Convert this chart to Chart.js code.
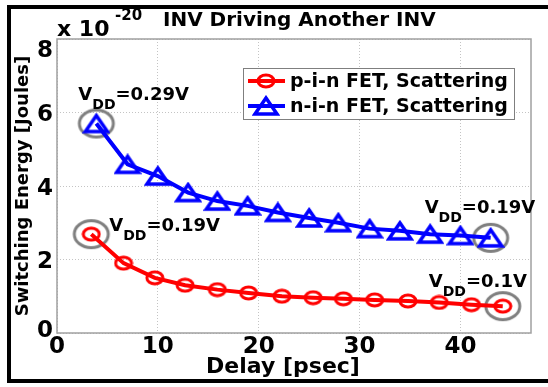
<!DOCTYPE html>
<html>
<head>
<meta charset="utf-8">
<script src="https://cdn.jsdelivr.net/npm/chart.js@4.4.1/dist/chart.umd.min.js"></script>
<style>
  html, body { margin: 0; padding: 0; background: #fff; }
  #wrap { width: 548px; height: 387px; }
</style>
</head>
<body>
<div id="wrap"><canvas id="chart" width="548" height="387"></canvas></div>
<script>
// datos (energia en unidades de 1e-20 J)
const delayPin = [3.4, 6.6, 9.7, 12.7, 15.9, 19.0, 22.3, 25.4, 28.4, 31.5, 34.8, 37.9, 41.1, 44.2];
const energyPin = [2.69, 1.90, 1.50, 1.30, 1.18, 1.09, 1.00, 0.96, 0.93, 0.90, 0.87, 0.83, 0.77, 0.73];
const delayNin = [3.9, 7.0, 10.0, 13.0, 15.9, 18.9, 21.9, 25.0, 27.9, 31.0, 34.0, 37.0, 40.0, 43.0];
const energyNin = [5.70, 4.59, 4.27, 3.82, 3.59, 3.46, 3.28, 3.13, 3.00, 2.84, 2.78, 2.69, 2.65, 2.59];
const xTicks = [0, 10, 20, 30, 40];
const yTicks = [0, 2, 4, 6, 8];
const seriesNames = ["p-i-n FET, Scattering", "n-i-n FET, Scattering"];
const chartTitle = "INV Driving Another INV";
const xTitle = "Delay [psec]";
const yTitle = "Switching Energy [Joules]";
const yExponent = "-20";
const vddSeries = [1, 0, 1, 0];
const vddIndex = [0, 0, 13, 13];
const vddValues = ["=0.29V", "=0.19V", "=0.19V", "=0.1V"];

const FONT = "'DejaVu Sans', sans-serif";
const RED = "#ff0000";
const BLUE = "#0000ff";

const toPoints = (xs, ys) => xs.map((x, i) => ({ x: x, y: ys[i] }));
const pinPts = toPoints(delayPin, energyPin);
const ninPts = toPoints(delayNin, energyNin);
const allSeries = [pinPts, ninPts];
const highlightPts = vddSeries.map((s, i) => allSeries[s][vddIndex[i]]);

// desplazamiento de cada etiqueta V_DD respecto a su punto (px)
const noteOffsets = [[-18, -24], [18, -3], [-66, -25], [-74, -19]];

// marcadores dibujados en un canvas aparte (la figura original esta estirada en horizontal)
const makeMarker = (w, h, draw) => {
    const c = document.createElement("canvas");
    c.width = w;
    c.height = h;
    const g = c.getContext("2d");
    draw(g, w, h);
    return c;
};
const redMarker = makeMarker(20, 16, (g, w, h) => {
    g.strokeStyle = RED;
    g.lineWidth = 3;
    g.beginPath();
    g.ellipse(w / 2, h / 2, 8, 6, 0, 0, Math.PI * 2);
    g.stroke();
});
const blueMarker = makeMarker(28, 22, (g, w, h) => {
    g.strokeStyle = BLUE;
    g.lineWidth = 3.5;
    g.lineJoin = "miter";
    g.beginPath();
    g.moveTo(w / 2, 3);
    g.lineTo(w - 3, h - 3);
    g.lineTo(3, h - 3);
    g.closePath();
    g.stroke();
});
const grayMarker = makeMarker(40, 32, (g, w, h) => {
    g.strokeStyle = "#7f7f7f";
    g.lineWidth = 3;
    g.beginPath();
    g.ellipse(w / 2, h / 2, 17, 13.5, 0, 0, Math.PI * 2);
    g.stroke();
});

const decorPlugin = {
    id: "decor",
    beforeDraw(chart) {
        const ctx = chart.ctx;
        ctx.save();
        ctx.fillStyle = "#fff";
        ctx.fillRect(0, 0, chart.width, chart.height);
        ctx.restore();
    },
    afterDatasetsDraw(chart) {
        const ctx = chart.ctx;
        const a = chart.chartArea;
        const xs = chart.scales.x;
        const ys = chart.scales.y;
        ctx.save();

        // caja del grafico
        ctx.strokeStyle = "#a0a0a0";
        ctx.lineWidth = 1.5;
        ctx.strokeRect(a.left, a.top, a.right - a.left, a.bottom - a.top);

        // marco negro exterior
        ctx.strokeStyle = "#000";
        ctx.lineWidth = 4;
        ctx.strokeRect(9, 7, chart.width + 20, 374);

        ctx.fillStyle = "#000";
        ctx.textBaseline = "alphabetic";

        // etiquetas del eje y (la de arriba y la de abajo quedan metidas hacia dentro)
        ctx.textAlign = "right";
        ctx.font = "bold 23px " + FONT;
        yTicks.forEach(v => {
            let cy = ys.getPixelForValue(v);
            cy = Math.min(Math.max(cy, a.top + 9), a.bottom - 5);
            ctx.fillText(String(v), a.left - 4, cy + 8.5);
        });

        // titulo del eje x
        ctx.textAlign = "center";
        ctx.font = "bold 22px " + FONT;
        ctx.fillText(xTitle, 283, 373);

        // titulo y exponente
        ctx.textAlign = "left";
        ctx.font = "bold 22px " + FONT;
        ctx.fillText("x 10", 57, 36);
        ctx.font = "bold 15px " + FONT;
        ctx.fillText(yExponent, 115, 20);
        ctx.font = "bold 20px " + FONT;
        ctx.fillText(chartTitle, 163, 26);

        // notas V_DD
        vddSeries.forEach((s, i) => {
            const p = allSeries[s][vddIndex[i]];
            const px = xs.getPixelForValue(p.x) + noteOffsets[i][0];
            const py = ys.getPixelForValue(p.y) + noteOffsets[i][1];
            ctx.font = "bold 18px " + FONT;
            ctx.fillText("V", px, py);
            let w = ctx.measureText("V").width;
            ctx.font = "bold 14px " + FONT;
            ctx.fillText("DD", px + w, py + 9);
            w += ctx.measureText("DD").width;
            ctx.font = "bold 18px " + FONT;
            ctx.fillText(vddValues[i], px + w, py);
        });

        // leyenda
        const lx = 243, ly = 68, lw = 271, lh = 51;
        ctx.fillStyle = "#fff";
        ctx.fillRect(lx, ly, lw, lh);
        ctx.strokeStyle = "#7f7f7f";
        ctx.lineWidth = 1;
        ctx.strokeRect(lx + 0.5, ly + 0.5, lw, lh);
        const colors = [RED, BLUE];
        const markers = [redMarker, blueMarker];
        seriesNames.forEach((name, i) => {
            const cy = ly + 13 + i * 25;
            ctx.strokeStyle = colors[i];
            ctx.lineWidth = 4;
            ctx.beginPath();
            ctx.moveTo(lx + 5, cy);
            ctx.lineTo(lx + 42, cy);
            ctx.stroke();
            const m = markers[i];
            ctx.drawImage(m, lx + 23 - m.width / 2, cy - m.height / 2);
            ctx.fillStyle = "#000";
            ctx.font = "bold 19px " + FONT;
            ctx.textBaseline = "middle";
            ctx.fillText(name, lx + 47, cy + 1);
        });
        ctx.restore();
    }
};

const ctx = document.getElementById("chart").getContext("2d");

new Chart(ctx, {
    type: "scatter",
    data: {
        datasets: [
            {
                label: seriesNames[0],
                data: pinPts,
                showLine: true,
                borderColor: RED,
                borderWidth: 4,
                pointStyle: redMarker,
                pointRadius: 8
            },
            {
                label: seriesNames[1],
                data: ninPts,
                showLine: true,
                borderColor: BLUE,
                borderWidth: 4,
                pointStyle: blueMarker,
                pointRadius: 10
            },
            {
                label: "resaltado",
                data: highlightPts,
                showLine: false,
                pointStyle: grayMarker,
                pointRadius: 16
            }
        ]
    },
    options: {
        responsive: false,
        animation: false,
        events: [],
        layout: { padding: { left: 0, right: 8, top: 39, bottom: 0 } },
        plugins: {
            legend: { display: false },
            tooltip: { enabled: false }
        },
        scales: {
            x: {
                type: "linear",
                min: 0,
                max: 47,
                afterBuildTicks: s => { s.ticks = xTicks.map(v => ({ value: v })); },
                afterFit: s => { s.height = 54; },
                grid: { color: "#c4c4c4", lineWidth: 1, drawTicks: false },
                border: { display: false, dash: [1, 2] },
                ticks: {
                    font: { family: FONT, size: 23, weight: "bold", lineHeight: 1 },
                    color: "#000",
                    padding: 3,
                    maxRotation: 0
                },
                title: { display: false }
            },
            y: {
                type: "linear",
                min: 0,
                max: 8,
                afterBuildTicks: s => { s.ticks = yTicks.map(v => ({ value: v })); },
                afterFit: s => { s.width = 57; },
                grid: { color: "#c4c4c4", lineWidth: 1, drawTicks: false },
                border: { display: false, dash: [1, 2] },
                ticks: { display: false },
                title: {
                    display: true,
                    text: yTitle,
                    color: "#000",
                    font: { family: FONT, size: 18, weight: "bold", lineHeight: 1 },
                    padding: { top: 14, bottom: 0 }
                }
            }
        }
    },
    plugins: [decorPlugin]
});
</script>
</body>
</html>
